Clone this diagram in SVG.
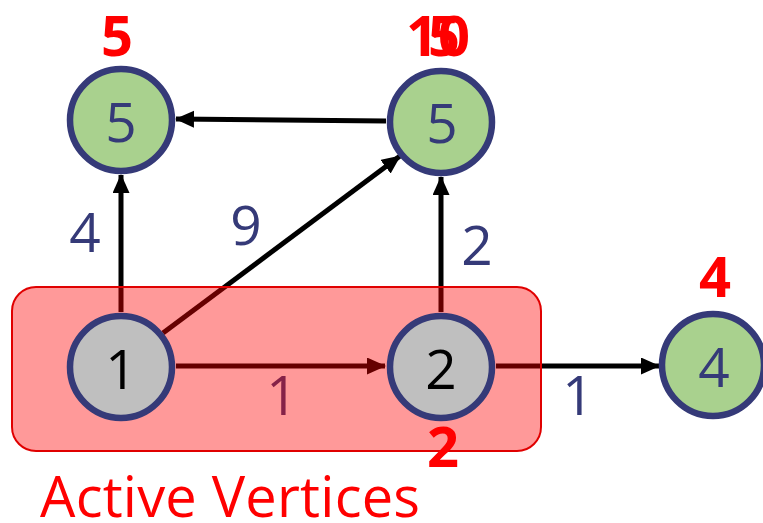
<svg xmlns="http://www.w3.org/2000/svg" width="763" height="523" viewBox="0 0 763 523">
  <style>
    .edge { stroke: #000; stroke-width: 5; fill: none; marker-end: url(#arrow); }
    .node circle { stroke: #353a78; stroke-width: 6.5; }
    .green { fill: #a9d18e; }
    .grey { fill: #bfbfbf; }
    .val { font-family: "Open Sans", "Liberation Sans", sans-serif; font-size: 55px; text-anchor: middle; }
    .navy { fill: #353a78; }
    .dist { font-family: "Open Sans", "Liberation Sans", sans-serif; font-weight: 700; font-size: 56px; fill: #ff0000; text-anchor: middle; }
    .wt { font-family: "Open Sans", "Liberation Sans", sans-serif; font-size: 55px; fill: #353a78; text-anchor: middle; }
  </style>
  <defs>
    <marker id="arrow" markerUnits="userSpaceOnUse" markerWidth="20" markerHeight="18" refX="18" refY="8.5" orient="auto">
      <path d="M0,0 L19,8.5 L0,17 z" fill="#000"/>
    </marker>
  </defs>

  <rect width="763" height="523" fill="#fff"/>

  <!-- connectors -->
  <g id="edges">
    <line class="edge" x1="386" y1="121" x2="176" y2="119"/>
    <line class="edge" x1="121" y1="312" x2="121" y2="175"/>
    <line class="edge" x1="163" y1="333" x2="400" y2="156"/>
    <line class="edge" x1="441" y1="312" x2="441" y2="177"/>
    <line class="edge" x1="176" y1="366" x2="385" y2="366"/>
    <line class="edge" x1="496" y1="366" x2="659" y2="366"/>
  </g>

  <!-- edge weights -->
  <g id="weights">
    <text class="wt" x="85" y="252">4</text>
    <text class="wt" x="246" y="245">9</text>
    <text class="wt" x="477" y="265">2</text>
    <text class="wt" x="282" y="415">1</text>
    <text class="wt" x="578" y="415">1</text>
  </g>

  <!-- active set highlight -->
  <rect id="active-box" x="12" y="287" width="529" height="164" rx="24" ry="24" fill="#ff0000" fill-opacity="0.4" stroke="#e00000" stroke-width="2"/>

  <!-- vertices -->
  <g id="n-top-left" class="node">
    <circle class="green" cx="121" cy="120" r="51"/>
    <text class="val navy" x="121" y="142">5</text>
  </g>
  <g id="n-top-right" class="node">
    <circle class="green" cx="441" cy="122" r="51"/>
    <text class="val navy" x="442" y="143">5</text>
  </g>
  <g id="n-1" class="node">
    <circle class="grey" cx="121" cy="367" r="51"/>
    <text class="val" x="121" y="389" fill="#000">1</text>
  </g>
  <g id="n-2" class="node">
    <circle class="grey" cx="441" cy="367" r="51"/>
    <text class="val" x="441" y="389" fill="#000">2</text>
  </g>
  <g id="n-4" class="node">
    <circle class="green" cx="713" cy="365" r="51"/>
    <text class="val navy" x="714" y="387">4</text>
  </g>

  <!-- distance labels -->
  <g id="distances">
    <text class="dist" x="117" y="56">5</text>
    <text class="dist" x="438" y="56">10</text>
    <text class="dist" x="444" y="56">5</text>
    <text class="dist" x="715" y="297" font-size="50">4</text>
    <text class="dist" x="443" y="467">2</text>
  </g>

  <text id="caption" x="40" y="517" font-family="'Open Sans', 'Liberation Sans', sans-serif" font-size="56" fill="#ff0000" textLength="380">Active Vertices</text>
</svg>
